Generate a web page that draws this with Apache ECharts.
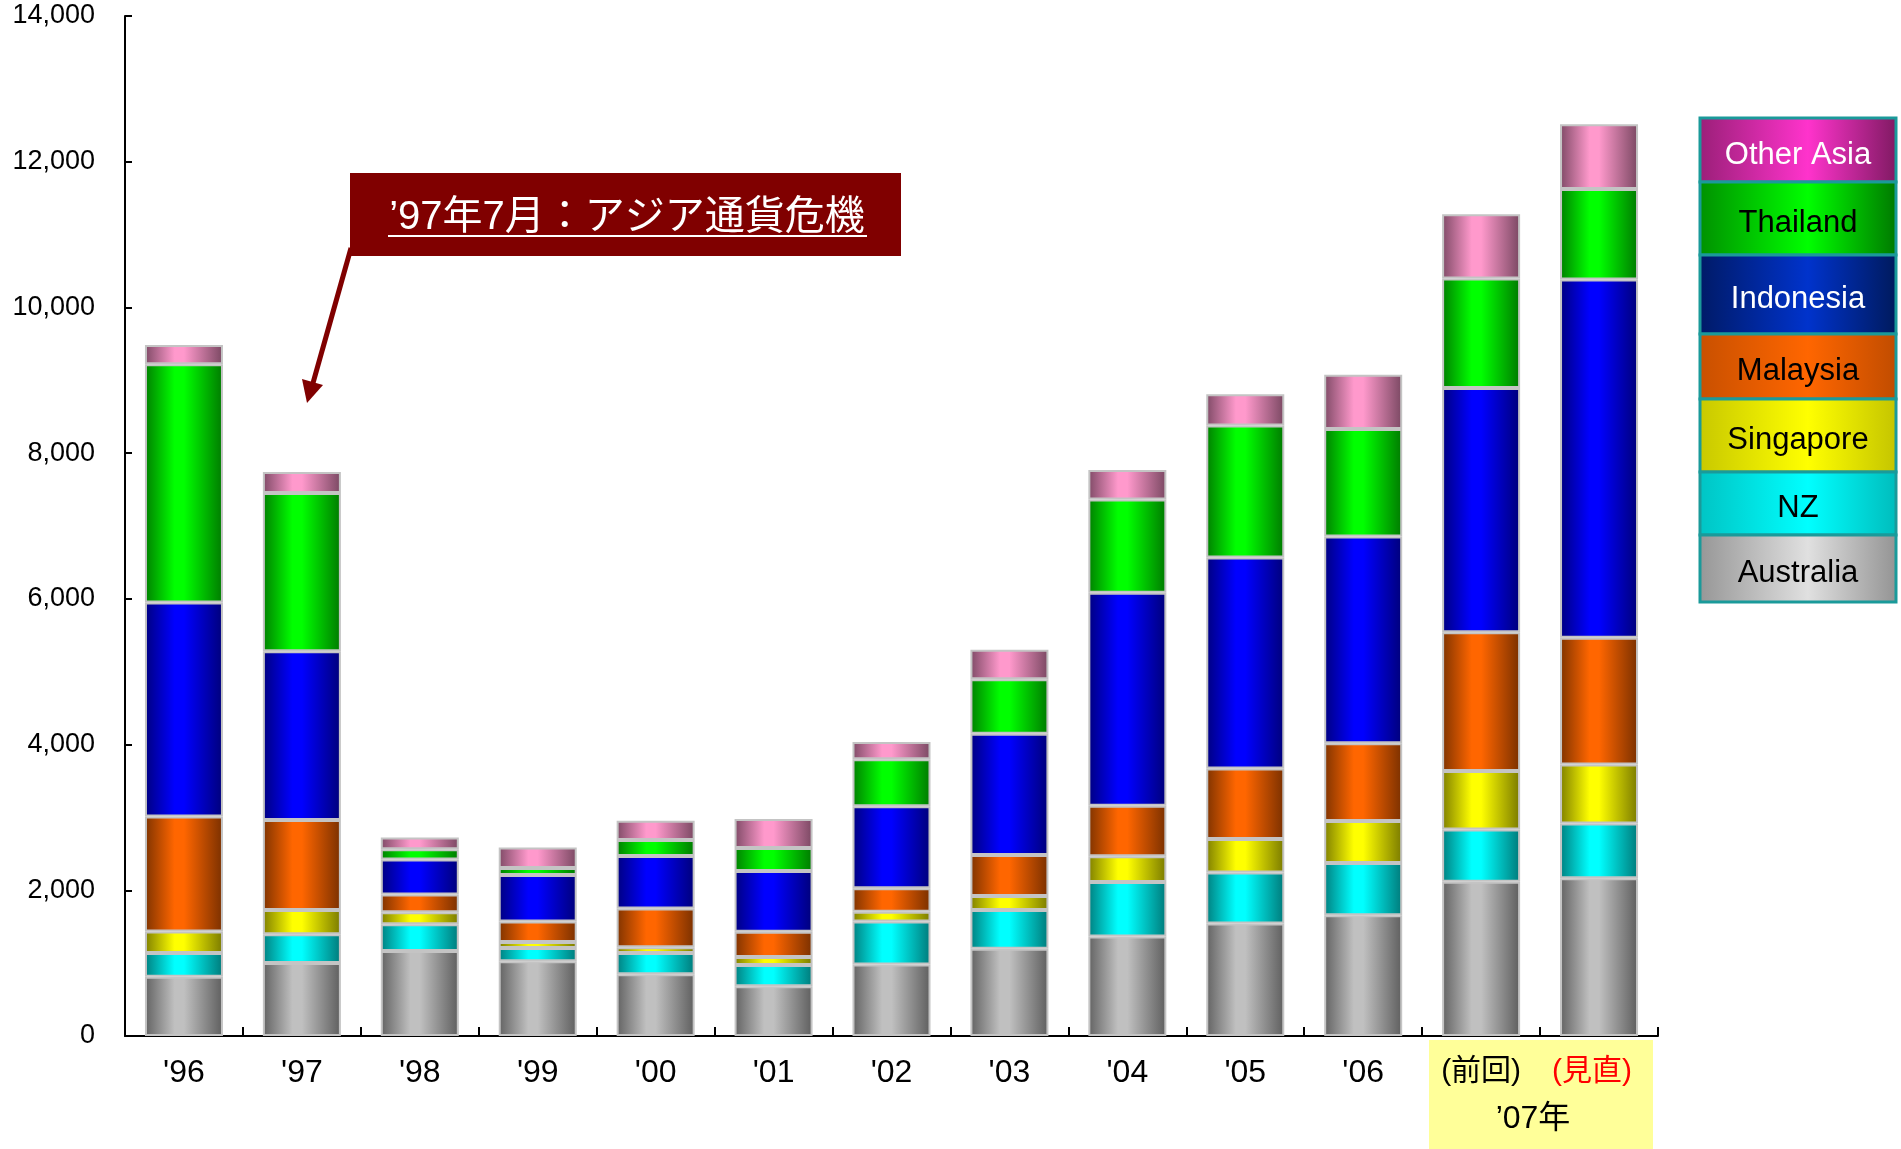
<!DOCTYPE html>
<html>
<head>
<meta charset="utf-8">
<script src="https://cdn.jsdelivr.net/npm/echarts/dist/echarts.min.js"></script>
<style>
html,body{margin:0;padding:0;background:#fff;}
#chart{width:1901px;height:1149px;}
</style>
</head>
<body>
<div id="chart"></div>
<script>
// ---- data ----
const categories = ["'96","'97","'98","'99","'00","'01","'02","'03","'04","'05","'06","(前回)","(見直)"];
const seriesNames = ["Australia","NZ","Singapore","Malaysia","Indonesia","Thailand","Other Asia"];
const australia = [814,1002,1165,1027,848,684,983,1198,1365,1544,1658,2117,2166];
const nz        = [326,395,370,182,291,291,590,531,748,701,718,719,752];
const singapore = [294,332,163,81,78,110,132,192,354,460,575,801,808];
const malaysia  = [1579,1234,244,282,533,346,324,562,694,965,1066,1904,1741];
const indonesia = [2938,2318,482,639,720,834,1124,1664,2922,2897,2838,3352,4918];
const thailand  = [3270,2173,138,94,219,314,645,750,1280,1814,1475,1505,1242];
const otherAsia = [263,288,163,282,264,401,238,406,407,429,745,882,887];
const yTicks = [0,2000,4000,6000,8000,10000,12000,14000];
const annotationText = "’97年7月：アジア通貨危機";
const groupLabel = "’07年";

const seriesValues = [australia, nz, singapore, malaysia, indonesia, thailand, otherAsia];

// ---- styles ----
const FONT = "'Liberation Sans', Arial, 'Noto Sans CJK JP', sans-serif";
const barColors = [
  ['#626262','#c0c0c0','#5e5e5e'],
  ['#007f7f','#00ffff','#007a7a'],
  ['#7f7f00','#ffff00','#7a7a00'],
  ['#7f3300','#ff6600','#7a3000'],
  ['#000080','#0000ff','#00007a'],
  ['#007f00','#00ff00','#007a00'],
  ['#7f4a66','#ff99cc','#7a4862']
];
const legendColors = {
  'Other Asia': ['#9a1f78','#ff33cc','#7f1a62', '#ffffff'],
  'Thailand':   ['#009000','#00ff00','#007800', '#000000'],
  'Indonesia':  ['#001a66','#0033cc','#001a5c', '#ffffff'],
  'Malaysia':   ['#c85000','#ff6600','#c04c00', '#000000'],
  'Singapore':  ['#c8c800','#ffff00','#c4c400', '#000000'],
  'NZ':         ['#00c4c4','#00ffff','#00bcbc', '#000000'],
  'Australia':  ['#969696','#e0e0e0','#939393', '#000000']
};

function grad(c){
  return new echarts.graphic.LinearGradient(0,0,1,0,[
    {offset:0,color:c[0]},{offset:0.38,color:c[1]},{offset:0.5,color:c[1]},{offset:1,color:c[2]}
  ]);
}

const chart = echarts.init(document.getElementById('chart'), null, {renderer:'canvas'});

const series = seriesNames.map((n,i)=>({
  name:n, type:'bar', stack:'total', data:seriesValues[i], barWidth:78,
  itemStyle:{color:grad(barColors[i]), borderColor:'#c4c4c4', borderWidth:2},
  emphasis:{disabled:true}
}));

// legend (drawn as stacked coloured boxes)
const legendOrder = ['Other Asia','Thailand','Indonesia','Malaysia','Singapore','NZ','Australia'];
const legendEdges = [118,182,255,334,399,472,535,602];
const LX = 1700, LW = 196;
const legendEls = [];
legendOrder.forEach((n,i)=>{
  const c = legendColors[n];
  const y0 = legendEdges[i], y1 = legendEdges[i+1];
  legendEls.push({
    type:'rect', shape:{x:LX, y:y0, width:LW, height:y1-y0},
    style:{fill:new echarts.graphic.LinearGradient(0,0,1,0,[
      {offset:0,color:c[0]},{offset:0.55,color:c[1]},{offset:1,color:c[2]}]),
      stroke:'#1a9a9a', lineWidth:3}
  });
  legendEls.push({
    type:'text', x:LX+LW/2, y:(y0+y1)/2+5,
    style:{text:n, fill:c[3], font:'31px '+FONT, textAlign:'center', textVerticalAlign:'middle'}
  });
});

const option = {
  animation:false,
  backgroundColor:'#ffffff',
  grid:{left:125, right:243, top:16, bottom:113, containLabel:false},
  xAxis:{
    type:'category', data:categories,
    axisLine:{lineStyle:{color:'#000', width:2}},
    axisTick:{show:true, inside:true, length:9, alignWithLabel:false, lineStyle:{color:'#000', width:2}},
    axisLabel:{
      interval:0, margin:21, color:'#000', fontSize:32, fontFamily:FONT,
      formatter:function(v,i){
        if(i===11) return '{k|'+v+'}';
        if(i===12) return '{r|'+v+'}';
        return v;
      },
      rich:{
        k:{color:'#000', fontSize:30, fontFamily:FONT},
        r:{color:'#ff0000', fontSize:30, fontFamily:FONT, padding:[0,14,0,0]}
      }
    }
  },
  yAxis:{
    type:'value', min:yTicks[0], max:yTicks[yTicks.length-1], interval:yTicks[1]-yTicks[0],
    axisLine:{show:true, lineStyle:{color:'#000', width:2}},
    axisTick:{show:true, inside:true, length:7, lineStyle:{color:'#000', width:2}},
    splitLine:{show:false},
    axisLabel:{margin:30, color:'#000', fontSize:27, fontFamily:FONT,
      formatter:v=>v.toLocaleString('en-US')}
  },
  series:series,
  graphic:[
    // yellow background for the '07 group
    {type:'rect', z:-1, shape:{x:1429, y:1040, width:224, height:109}, style:{fill:'#ffff99'}},
    {type:'text', x:1533, y:1119, style:{text:groupLabel, fill:'#000', font:'32px '+FONT, textAlign:'center', textVerticalAlign:'middle'}},
    // annotation box
    {type:'rect', shape:{x:350, y:173, width:551, height:83}, style:{fill:'#800000'}},
    {type:'text', x:627, y:218, style:{text:annotationText, fill:'#fff', font:'40px '+FONT, textAlign:'center', textVerticalAlign:'middle'}},
    {type:'line', shape:{x1:388, y1:236, x2:867, y2:236}, style:{stroke:'#fff', lineWidth:2}},
    // arrow
    {type:'line', shape:{x1:351, y1:248, x2:313, y2:383}, style:{stroke:'#800000', lineWidth:5}},
    {type:'polygon', shape:{points:[[307,403],[323,385],[302,379]]}, style:{fill:'#800000'}},
    {type:'group', children:legendEls}
  ]
};
chart.setOption(option);
</script>
</body>
</html>
